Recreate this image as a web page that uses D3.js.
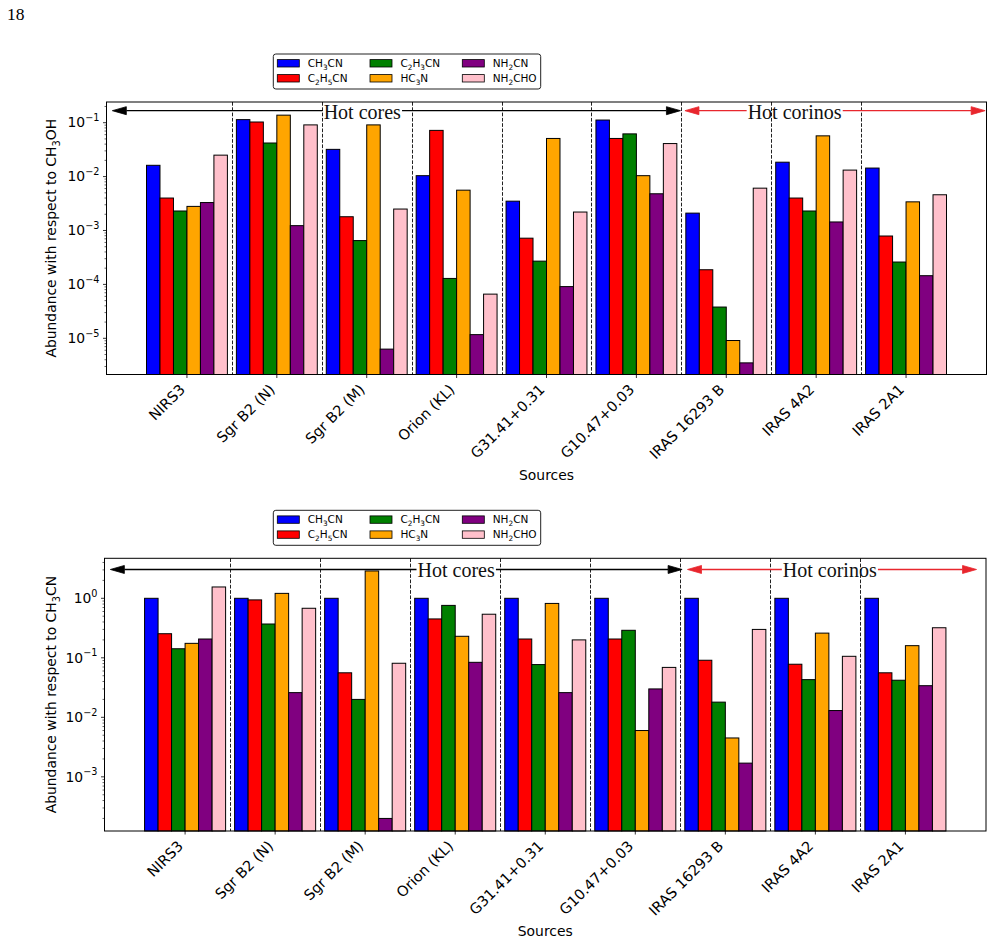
<!DOCTYPE html>
<html><head><meta charset="utf-8">
<script src="https://cdn.jsdelivr.net/npm/d3@7"></script>
<style>body{margin:0;background:#fff} svg{display:block}</style>
</head><body>
<svg id="c" width="994" height="943"></svg>
<script>
// ---------------- data ----------------
const categories = ["NIRS3","Sgr B2 (N)","Sgr B2 (M)","Orion (KL)","G31.41+0.31","G10.47+0.03","IRAS 16293 B","IRAS 4A2","IRAS 2A1"];
const seriesNames = ["CH_3CN","C_2H_5CN","C_2H_3CN","HC_3N","NH_2CN","NH_2CHO"];
const seriesColors = ["blue","red","green","orange","purple","pink"];

// Abundance with respect to CH3OH
const ch3cnVsCH3OH  = [0.0162,0.114,0.032,0.0104,0.0035,0.112,0.0021,0.0185,0.0144];
const c2h5cnVsCH3OH = [0.0040,0.103,0.0018,0.072,0.00072,0.051,0.000187,0.0040,0.00079];
const c2h3cnVsCH3OH = [0.0023,0.042,0.00065,0.000129,0.00027,0.062,0.000038,0.0023,0.00026];
const hc3nVsCH3OH   = [0.0028,0.138,0.091,0.0056,0.051,0.0104,0.0000091,0.057,0.0034];
const nh2cnVsCH3OH  = [0.0033,0.00123,0.0000063,0.0000117,0.000091,0.0048,0.0000035,0.00144,0.000145];
const nh2choVsCH3OH = [0.025,0.091,0.0025,0.000066,0.0022,0.041,0.0061,0.0132,0.0046];

// Abundance with respect to CH3CN
const ch3cnVsCH3CN  = [1,1,1,1,1,1,1,1,1];
const c2h5cnVsCH3CN = [0.254,0.94,0.056,0.45,0.207,0.207,0.091,0.078,0.056];
const c2h3cnVsCH3CN = [0.142,0.37,0.020,0.76,0.077,0.29,0.018,0.043,0.042];
const hc3nVsCH3CN   = [0.175,1.21,2.88,0.23,0.82,0.006,0.0045,0.26,0.16];
const nh2cnVsCH3CN  = [0.207,0.026,0.0002,0.084,0.026,0.030,0.0017,0.013,0.034];
const nh2choVsCH3CN = [1.55,0.68,0.081,0.54,0.20,0.069,0.30,0.106,0.32];

const topTicks = [1e-5,1e-4,1e-3,1e-2,1e-1];
const bottomTicks = [1e-3,1e-2,1e-1,1];

// ---------------- layout ----------------
const svg = d3.select("#c");
const SANS = "DejaVu Sans, sans-serif";
const SERIF = "Liberation Serif, Times New Roman, serif";

svg.append("text").attr("x",7).attr("y",19.5).attr("font-family",SERIF)
  .attr("font-size",17.5).text("18");

function addChem(textSel, s, size){
  const parts = s.split(/(_\d)/).filter(p=>p.length);
  let sub = false;
  parts.forEach(p=>{
    if(p[0]==="_"){
      textSel.append("tspan").attr("font-size",size*0.7).attr("dy",size*0.28).text(p.slice(1));
      sub = true;
    } else {
      const t = textSel.append("tspan").text(p);
      if(sub){ t.attr("dy",-size*0.28); sub=false; }
    }
  });
}

function drawArrow(g, x1,y1,x2,y2,color){
  const ang = Math.atan2(y2-y1,x2-x1);
  const hl = 14, hw = 4;
  const bx = x2 - hl*Math.cos(ang), by = y2 - hl*Math.sin(ang);
  g.append("line").attr("x1",x1).attr("y1",y1).attr("x2",bx).attr("y2",by)
    .attr("stroke",color).attr("stroke-width",1.3);
  const px = -Math.sin(ang)*hw, py = Math.cos(ang)*hw;
  g.append("path").attr("d",`M${x2},${y2}L${bx+px},${by+py}L${bx-px},${by-py}Z`)
    .attr("fill",color).attr("stroke",color).attr("stroke-width",0.8);
}

function panel(cfg){
  const g = svg.append("g");
  const x = d3.scaleLinear().domain([-0.895, 8.895]).range([cfg.left, cfg.right]);
  const y = d3.scaleLog().domain(cfg.yDomain).range([cfg.bottom, cfg.top]);
  const bw = 0.15;

  cfg.series.forEach((vals,k)=>{
    g.append("g").selectAll("rect").data(vals).join("rect")
      .attr("x",(d,i)=>x(i + (k-3)*bw))
      .attr("width",x(bw)-x(0))
      .attr("y",d=>y(d))
      .attr("height",d=>cfg.bottom - y(d))
      .attr("fill",seriesColors[k]).attr("stroke","#000").attr("stroke-width",1);
  });

  g.append("g").selectAll("line").data(d3.range(categories.length-1)).join("line")
    .attr("x1",d=>Math.round(x(d+0.5))+0.5).attr("x2",d=>Math.round(x(d+0.5))+0.5)
    .attr("y1",cfg.top).attr("y2",cfg.bottom)
    .attr("stroke","#222").attr("stroke-width",1).attr("stroke-dasharray","3.7,1.6");

  g.append("rect").attr("x",cfg.left).attr("y",cfg.top)
    .attr("width",cfg.right-cfg.left).attr("height",cfg.bottom-cfg.top)
    .attr("fill","none").attr("stroke","#000").attr("stroke-width",1);

  const yt = g.append("g");
  cfg.ticks.forEach(t=>{
    const yy = y(t);
    yt.append("line").attr("x1",cfg.left-3.5).attr("x2",cfg.left).attr("y1",yy).attr("y2",yy)
      .attr("stroke","#000").attr("stroke-width",0.8);
    const tx = yt.append("text").attr("x",cfg.left-7).attr("y",yy+4.8)
      .attr("text-anchor","end").attr("font-family",SANS).attr("font-size",13.9).attr("fill","#000");
    const e = Math.round(Math.log10(t));
    tx.append("tspan").text("10");
    tx.append("tspan").attr("font-size",9.7).attr("dy",-6.5).text(e<0 ? "\u2212"+(-e) : String(e));
  });
  const [d0,d1] = cfg.yDomain;
  for(let e=Math.floor(Math.log10(d0)); e<=Math.ceil(Math.log10(d1)); e++){
    for(let m=2;m<=9;m++){
      const v = m*Math.pow(10,e);
      if(v<d0||v>d1) continue;
      const yy=y(v);
      yt.append("line").attr("x1",cfg.left-2).attr("x2",cfg.left).attr("y1",yy).attr("y2",yy)
        .attr("stroke","#000").attr("stroke-width",0.6);
    }
  }

  categories.forEach((c,i)=>{
    const xx = x(i);
    g.append("line").attr("x1",xx).attr("x2",xx).attr("y1",cfg.bottom).attr("y2",cfg.bottom+3.5)
      .attr("stroke","#000").attr("stroke-width",0.8);
    g.append("text").attr("text-anchor","end").attr("font-family",SANS).attr("font-size",14.5)
      .attr("transform",`translate(${xx-1},${cfg.bottom+16}) rotate(-45)`).text(c);
  });

  g.append("text").attr("x",(cfg.left+cfg.right)/2).attr("y",cfg.bottom+105)
    .attr("text-anchor","middle").attr("font-family",SANS).attr("font-size",13.9).text("Sources");
  const yl = g.append("text").attr("text-anchor","middle").attr("font-family",SANS).attr("font-size",13.9)
    .attr("transform",`translate(56,${(cfg.top+cfg.bottom)/2}) rotate(-90)`);
  yl.append("tspan").text("Abundance with respect to ");
  addChem(yl, cfg.ref, 13.9);

  cfg.ann.forEach(a=>{
    const ay = y(a.y);
    const t = g.append("text").attr("x",x(a.x)).attr("y",ay+8).attr("text-anchor","middle")
      .attr("font-family",SERIF).attr("font-size",20).attr("fill","#111").text(a.label);
    const bb = t.node().getBBox();
    drawArrow(g, bb.x-1, ay, x(a.from), ay, a.color);
    drawArrow(g, bb.x+bb.width+1, ay, x(a.to), ay, a.color);
  });

  const lg = g.append("g").attr("transform",`translate(273.3,${cfg.top-48})`);
  lg.append("rect").attr("x",0).attr("y",0).attr("width",267.4).attr("height",35).attr("rx",2.5)
    .attr("fill","#fff").attr("stroke","#222").attr("stroke-width",1);
  const colX = [4, 96.7, 189];
  seriesNames.forEach((s,k)=>{
    const col = Math.floor(k/2), row = k%2;
    const cy = 9.3 + row*15;
    lg.append("rect").attr("x",colX[col]).attr("y",cy-3.7).attr("width",22).attr("height",7.4)
      .attr("fill",seriesColors[k]).attr("stroke","#000").attr("stroke-width",0.8);
    const tt = lg.append("text").attr("x",colX[col]+30.4).attr("y",cy+3.8)
      .attr("font-family",SANS).attr("font-size",10.5);
    addChem(tt, s, 10.5);
  });
}

panel({
  left:106.5, right:986.5, top:102, bottom:374.5,
  yDomain:[2.13e-6, 0.242], ticks:topTicks, ref:"CH_3OH",
  series:[ch3cnVsCH3OH,c2h5cnVsCH3OH,c2h3cnVsCH3OH,hc3nVsCH3OH,nh2cnVsCH3OH,nh2choVsCH3OH],
  ann:[{label:"Hot cores", x:1.95, y:0.167, from:-0.83, to:5.49, color:"#000"},
       {label:"Hot corinos", x:6.76, y:0.167, from:5.54, to:8.88, color:"#e8262d"}]
});
panel({
  left:104.5, right:986, top:558.3, bottom:831,
  yDomain:[1.23e-4, 4.70], ticks:bottomTicks, ref:"CH_3CN",
  series:[ch3cnVsCH3CN,c2h5cnVsCH3CN,c2h3cnVsCH3CN,hc3nVsCH3CN,nh2cnVsCH3CN,nh2choVsCH3CN],
  ann:[{label:"Hot cores", x:3.01, y:3.05, from:-0.83, to:5.52, color:"#000"},
       {label:"Hot corinos", x:7.16, y:3.05, from:5.58, to:8.79, color:"#e8262d"}]
});
</script>
</body></html>
